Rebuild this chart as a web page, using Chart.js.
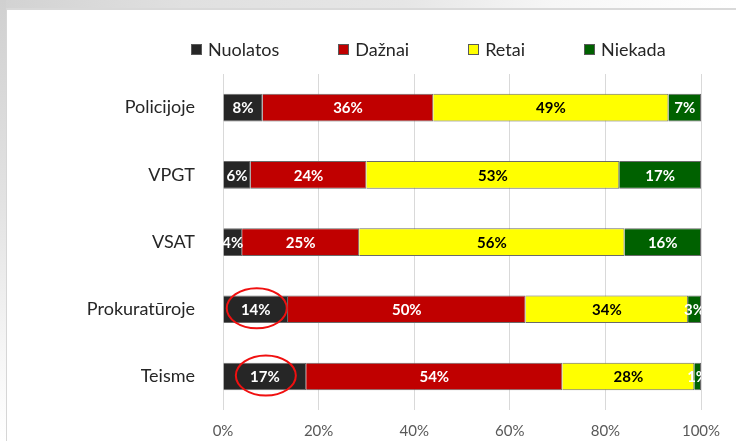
<!DOCTYPE html>
<html>
<head>
<meta charset="utf-8">
<script src="https://cdn.jsdelivr.net/npm/chart.js@4.4.1/dist/chart.umd.min.js"></script>
<style>
  html, body { margin: 0; padding: 0; }
  body { width: 736px; height: 441px; overflow: hidden; position: relative; background: #fff; font-family: Lato, 'Noto Sans', sans-serif; }
  #topStrip { position: absolute; left: 0; top: 0; width: 736px; height: 8px;
    background: linear-gradient(to right, #d2d2d2 0%, #e0e0e0 25%, #e6e6e6 55%, #f6f6f6 75%, #fff 100%); }
  #leftStrip { position: absolute; left: 0; top: 0; width: 6px; height: 441px;
    background: linear-gradient(to bottom, #d0d0d0 0%, #e2e2e2 45%, #f6f6f6 80%, #fff 100%); }
  #panel { position: absolute; left: 6px; top: 8px; width: 740px; height: 445px; background: #fff;
    border-left: 1px solid #d6d6d6; border-top: 2px solid #d9d9d9; }
  #wrap { position: absolute; left: 0; top: 0; width: 736px; height: 441px; }
  #legend { position: absolute; left: 191px; top: 38px; display: flex; gap: 59px; align-items: center;
    font: 18px Lato, sans-serif; color: #262626; line-height: 22px; white-space: nowrap; }
  #legend .item { display: flex; align-items: center; }
  #legend .box { width: 9px; height: 9px; border: 1px solid #595959; margin-right: 6px; }
</style>
</head>
<body>
<div id="topStrip"></div>
<div id="leftStrip"></div>
<div id="panel"></div>
<div id="wrap"><canvas id="myChart"></canvas></div>
<div id="legend"></div>
<script>
// values (share of answers, %)
const categories = ['Policijoje', 'VPGT', 'VSAT', 'Prokuratūroje', 'Teisme'];
const seriesNames = ['Nuolatos', 'Dažnai', 'Retai', 'Niekada'];
const nuolatos = [8.3, 5.8, 4.0, 13.6, 17.4];
const daznai = [35.7, 24.2, 24.5, 49.7, 53.6];
const retai = [49.2, 52.9, 55.5, 34.0, 27.6];
const niekada = [6.8, 17.1, 16.0, 2.7, 1.4];
const xTicks = [0, 20, 40, 60, 80, 100];
const circled = ['Prokuratūroje', 'Teisme'];

const colors = ['#262626', '#c00000', '#ffff00', '#006100'];
const labelColors = ['#ffffff', '#ffffff', '#000000', '#ffffff'];

// percentage text in the middle of each segment
const segmentLabels = {
  id: 'segmentLabels',
  afterDatasetsDraw(chart) {
    const ctx = chart.ctx;
    const area = chart.chartArea;
    ctx.save();
    ctx.beginPath();
    ctx.rect(area.left, area.top, area.right - area.left, area.bottom - area.top);
    ctx.clip();
    ctx.font = 'bold 15px Lato, sans-serif';
    ctx.textAlign = 'center';
    ctx.textBaseline = 'middle';
    chart.data.datasets.forEach((ds, i) => {
      chart.getDatasetMeta(i).data.forEach((bar, j) => {
        ctx.fillStyle = labelColors[i];
        ctx.fillText(Math.round(ds.data[j]) + '%', (bar.x + bar.base) / 2, bar.y + 1);
      });
    });
    ctx.restore();
  }
};

// red ovals around the first segment of some rows
const ovals = {
  id: 'ovals',
  afterDraw(chart) {
    const ctx = chart.ctx;
    const meta = chart.getDatasetMeta(0);
    ctx.save();
    ctx.strokeStyle = '#f01010';
    ctx.lineWidth = 2;
    circled.forEach(name => {
      const bar = meta.data[categories.indexOf(name)];
      ctx.beginPath();
      ctx.ellipse((bar.x + bar.base) / 2 + 1, bar.y - 1, 30, 20, 0, 0, Math.PI * 2);
      ctx.stroke();
    });
    ctx.restore();
  }
};

var ctx = document.getElementById('myChart').getContext('2d');
var myChart = new Chart(ctx, {
  type: 'bar',
  data: {
    labels: categories,
    datasets: [nuolatos, daznai, retai, niekada].map((vals, i) => ({
      label: seriesNames[i],
      data: vals,
      backgroundColor: colors[i],
      borderColor: '#6a6a6a',
      borderWidth: 1,
      categoryPercentage: 1,
      barPercentage: 0.41
    }))
  },
  options: {
    indexAxis: 'y',
    responsive: true,
    maintainAspectRatio: false,
    animation: false,
    layout: { padding: { left: 0, right: 35, top: 74, bottom: 0 } },
    plugins: {
      legend: { display: false },
      tooltip: { enabled: false }
    },
    scales: {
      x: {
        stacked: true,
        min: 0,
        max: 100,
        afterBuildTicks: s => { s.ticks = xTicks.map(v => ({ value: v })); },
        afterFit: s => { s.height = 28; },
        grid: { color: '#d9d9d9', drawTicks: false },
        border: { display: false },
        ticks: {
          padding: 12,
          color: '#595959',
          font: { family: 'Lato', size: 15 },
          callback: v => v + '%'
        }
      },
      y: {
        stacked: true,
        afterFit: s => { s.width = 223; },
        grid: { display: false },
        border: { display: false },
        ticks: {
          padding: 20,
          color: '#262626',
          font: { family: 'Lato', size: 18 }
        }
      }
    }
  },
  plugins: [segmentLabels, ovals]
});

// legend built from the chart's own datasets
document.getElementById('legend').innerHTML = myChart.data.datasets.map(ds =>
  '<span class="item"><span class="box" style="background:' + ds.backgroundColor + '"></span>' + ds.label + '</span>'
).join('');
</script>
</body>
</html>
